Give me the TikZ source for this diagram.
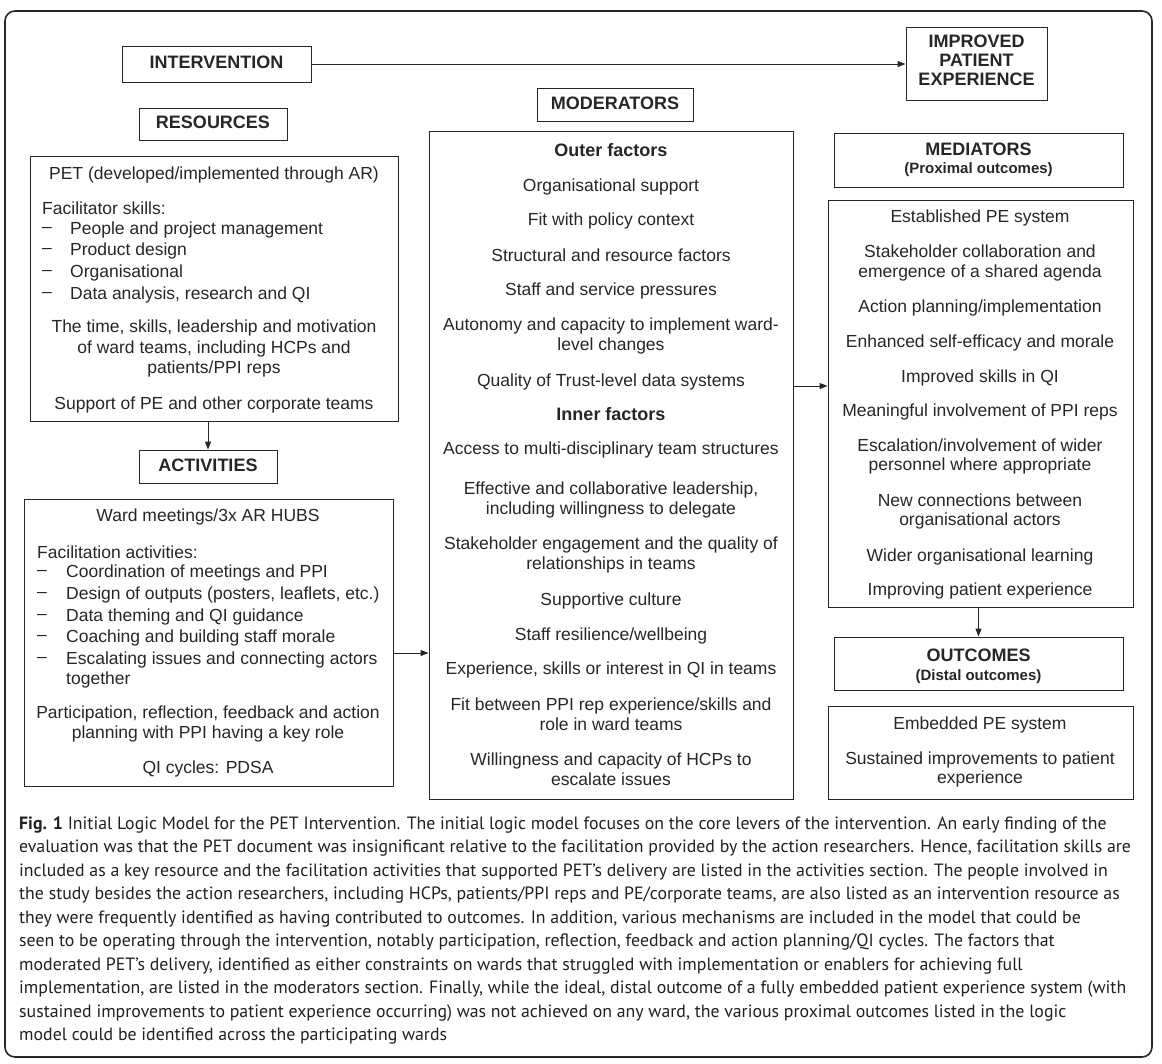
\documentclass[tikz,border=0pt]{standalone}
\usepackage{fontspec}
\setmainfont{Liberation Sans}
\newfontfamily\capfont{PT Sans}
\usetikzlibrary{arrows.meta,calc}
\definecolor{ink}{HTML}{262626}
\definecolor{capink}{HTML}{231F20}
\newcommand\bx[6]{\node[#6, minimum width={(#4-#2)*1pt}, minimum height={(#5-#3)*1pt}] (#1) at ({(#2+#4)/2},{(#3+#5)/2}) {};}
\begin{document}
\begin{tikzpicture}[x=1pt,y=-1pt,
  box/.style={draw=ink, line width=1pt, inner sep=0pt},
  t/.style={font=\fontsize{17.5}{19.5}\selectfont, text=ink, align=center, inner sep=0pt, yshift=-1.5pt},
  tb/.style={t, font=\fontsize{18}{19.5}\selectfont\bfseries},
  ts/.style={t, font=\fontsize{15}{17}\selectfont\bfseries},
  tl/.style={t, anchor=west, align=left},
  hd/.style={tb, yshift=3pt},
  arr/.style={draw=ink, line width=1pt, -{Triangle[length=8pt,width=6pt]}},
  captxt/.style={font=\capfont\fontsize{17.8}{20}\selectfont, text=capink, anchor=base west, inner sep=0pt}]
\useasboundingbox (0,0) rectangle (1162,1063);
\draw[ink, line width=1.6pt, rounded corners=10pt] (5,11) rectangle (1152,1057);

% header boxes
\bx{intv}{122}{46}{311}{82}{box}
\node[hd] (intvT) at (intv) {INTERVENTION};
\bx{imp}{906}{27}{1047}{100}{box}
\node[hd, font=\fontsize{18}{19}\selectfont\bfseries] (impT) at (976.5,62) {IMPROVED\\PATIENT\\EXPERIENCE};
\bx{reshdr}{139}{108}{287}{140}{box}
\node[hd] (reshdrT) at (reshdr) {RESOURCES};
\bx{modhdr}{537}{88}{693}{121}{box}
\node[hd] (modhdrT) at (modhdr) {MODERATORS};
\bx{acthdr}{139}{450}{277}{483}{box}
\node[hd] (acthdrT) at (acthdr) {ACTIVITIES};
\bx{medhdr}{834}{133}{1123}{187}{box}
\node[tb] (medhdrT) at (978.5,148) {MEDIATORS};
\node[ts] (medhdrS) at (978.5,168) {(Proximal outcomes)};
\bx{outhdr}{834}{637}{1123}{690}{box}
\node[tb] (outhdrT) at (978.5,654) {OUTCOMES};
\node[ts] (outhdrS) at (978.5,675) {(Distal outcomes)};

% content boxes
\bx{resbox}{30}{156}{398}{421}{box}
\bx{actbox}{24}{499}{393}{786}{box}
\bx{modbox}{429}{131}{793}{799}{box}
\bx{medbox}{828}{200}{1133}{607}{box}
\bx{outbox}{828}{706}{1133}{799}{box}

% resources text
\node[t] (r1) at (214,173) {PET (developed/implemented through AR)};
\node[tl] (r2) at (42,207) {Facilitator skills:};
\node[tl] (r3d) at (42,228) {–};
\node[tl] (r3) at (70,228) {People and project management};
\node[tl] (r4d) at (42,249) {–};
\node[tl] (r4) at (70,249) {Product design};
\node[tl] (r5d) at (42,271) {–};
\node[tl] (r5) at (70,271) {Organisational};
\node[tl] (r6d) at (42,293) {–};
\node[tl] (r6) at (70,293) {Data analysis, research and QI};
\node[t, font=\fontsize{17.5}{20.5}\selectfont] (r7) at (214,347) {The time, skills, leadership and motivation\\of ward teams, including HCPs and\\patients/PPI reps};
\node[t] (r8) at (214,403) {Support of PE and other corporate teams};

% activities text
\node[t] (a1) at (208,515) {Ward meetings/3x AR HUBS};
\node[tl] (a2) at (37,551) {Facilitation activities:};
\node[tl] (a3d) at (37,571) {–};
\node[tl] (a3) at (66,571) {Coordination of meetings and PPI};
\node[tl] (a4d) at (37,593) {–};
\node[tl] (a4) at (66,593) {Design of outputs (posters, leaflets, etc.)};
\node[tl] (a5d) at (37,615) {–};
\node[tl] (a5) at (66,615) {Data theming and QI guidance};
\node[tl] (a6d) at (37,636) {–};
\node[tl] (a6) at (66,636) {Coaching and building staff morale};
\node[tl] (a7d) at (37,658) {–};
\node[tl] (a7) at (66,658) {Escalating issues and connecting actors};
\node[tl] (a7b) at (66,678) {together};
\node[t] (a8) at (208,722.5) {Participation, reflection, feedback and action\\planning with PPI having a key role};
\node[t] (a9) at (208,767) {QI cycles: PDSA};

% moderators text
\node[tb] (m0) at (611,149) {Outer factors};
\node[t] (m1) at (611,185) {Organisational support};
\node[t] (m2) at (611,219) {Fit with policy context};
\node[t] (m3) at (611,254) {Structural and resource factors};
\node[t] (m4) at (611,289) {Staff and service pressures};
\node[t] (m5) at (611,334.5) {Autonomy and capacity to implement ward-\\level changes};
\node[t] (m6) at (611,380) {Quality of Trust-level data systems};
\node[tb] (m7) at (611,413) {Inner factors};
\node[t] (m8) at (611,448) {Access to multi-disciplinary team structures};
\node[t] (m9) at (611,498.5) {Effective and collaborative leadership,\\including willingness to delegate};
\node[t] (m10) at (611,553.5) {Stakeholder engagement and the quality of\\relationships in teams};
\node[t] (m11) at (611,599) {Supportive culture};
\node[t] (m12) at (611,634) {Staff resilience/wellbeing};
\node[t] (m13) at (611,668) {Experience, skills or interest in QI in teams};
\node[t] (m14) at (611,712.5) {Fit between PPI rep experience/skills and\\role in ward teams};
\node[t] (m15) at (611,767.5) {Willingness and capacity of HCPs to\\escalate issues};

% mediators text
\node[t] (d1) at (980,216) {Established PE system};
\node[t] (d2) at (980,261.5) {Stakeholder collaboration and\\emergence of a shared agenda};
\node[t] (d3) at (980,306) {Action planning/implementation};
\node[t] (d4) at (980,341) {Enhanced self-efficacy and morale};
\node[t] (d5) at (980,376) {Improved skills in QI};
\node[t] (d6) at (980,410) {Meaningful involvement of PPI reps};
\node[t] (d7) at (980,455) {Escalation/involvement of wider\\personnel where appropriate};
\node[t] (d8) at (980,510) {New connections between\\organisational actors};
\node[t] (d9) at (980,555) {Wider organisational learning};
\node[t] (d10) at (980,589) {Improving patient experience};

% outcomes text
\node[t] (o1) at (980,723) {Embedded PE system};
\node[t] (o2) at (980,768) {Sustained improvements to patient\\experience};

% connectors
\coordinate (y1) at (0,653);
\coordinate (y2) at (0,386);
\draw[arr] (intv.east) -- (intv.east -| imp.west);
\draw[arr] (acthdr.north |- resbox.south) -- (acthdr.north);
\draw[arr] (actbox.east |- y1) -- (modbox.west |- y1);
\draw[arr] (modbox.east |- y2) -- (medbox.west |- y2);
\draw[arr] (outhdr.north |- medbox.south) -- (outhdr.north);

% caption
\node[captxt] (c1) at (19,829) {\textbf{Fig. 1} Initial Logic Model for the PET Intervention. The initial logic model focuses on the core levers of the intervention. An early finding of the};
\node[captxt] (c2) at (19,852.5) {evaluation was that the PET document was insignificant relative to the facilitation provided by the action researchers. Hence, facilitation skills are};
\node[captxt] (c3) at (19,876) {included as a key resource and the facilitation activities that supported PET’s delivery are listed in the activities section. The people involved in};
\node[captxt] (c4) at (19,899.5) {the study besides the action researchers, including HCPs, patients/PPI reps and PE/corporate teams, are also listed as an intervention resource as};
\node[captxt] (c5) at (19,923) {they were frequently identified as having contributed to outcomes. In addition, various mechanisms are included in the model that could be};
\node[captxt] (c6) at (19,946.5) {seen to be operating through the intervention, notably participation, reflection, feedback and action planning/QI cycles. The factors that};
\node[captxt] (c7) at (19,970) {moderated PET’s delivery, identified as either constraints on wards that struggled with implementation or enablers for achieving full};
\node[captxt] (c8) at (19,993.5) {implementation, are listed in the moderators section. Finally, while the ideal, distal outcome of a fully embedded patient experience system (with};
\node[captxt] (c9) at (19,1017) {sustained improvements to patient experience occurring) was not achieved on any ward, the various proximal outcomes listed in the logic};
\node[captxt] (c10) at (19,1040.5) {model could be identified across the participating wards};
\end{tikzpicture}
\end{document}
